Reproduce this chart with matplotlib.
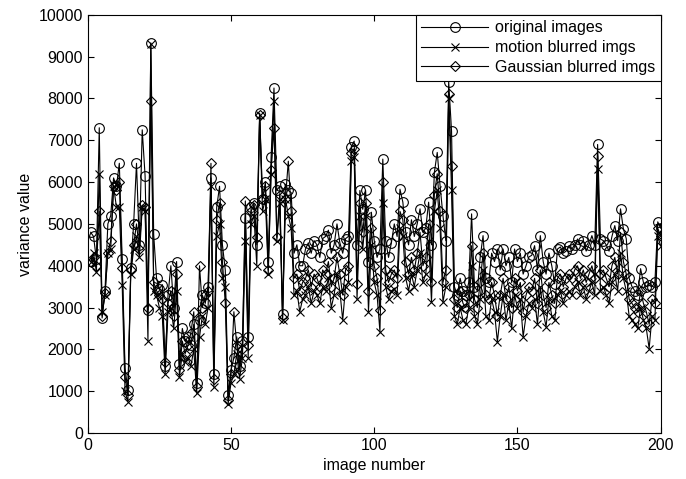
"""
Variance of original vs. blurred images, one point per image.
"""
import numpy as np
import matplotlib.pyplot as plt

plt.rcParams['font.family'] = ['Liberation Sans', 'DejaVu Sans']

image_number = np.arange(1, 201)

original = [
    4800, 4700, 4150, 7300, 2750, 3400, 5000, 5200, 6100, 5900,
    6450, 4150, 1550, 1020, 3950, 5000, 6450, 4500, 7250, 6150,
    2950, 9330, 4750, 3700, 3450, 3550, 1600, 3300, 4000, 3000,
    4100, 1650, 2500, 2200, 2300, 2100, 2600, 1200, 2700, 3300,
    3100, 3500, 6100, 1400, 5400, 5900, 4500, 3900, 900, 1500,
    1800, 2300, 1600, 2200, 5150, 2300, 5400, 5500, 4500, 7650,
    5600, 6000, 4100, 6600, 8250, 5800, 5900, 2850, 5950, 5800,
    5750, 4300, 4500, 4000, 4000, 4400, 4550, 4300, 4600, 4500,
    4200, 4650, 4700, 4850, 4300, 4500, 5000, 4550, 4300, 4650,
    4700, 6850, 6980, 4500, 5800, 5350, 5800, 4100, 5280, 4600,
    4200, 4400, 6550, 4600, 4200, 4550, 5000, 4700, 5830, 5520,
    4800, 4500, 5100, 4700, 5000, 5360, 4800, 4900, 5520, 4500,
    6230, 6710, 5910, 5200, 4600, 8400, 7220, 3500, 3300, 3700,
    3400, 3300, 3600, 5240, 3500, 3400, 4200, 4720, 3700, 3600,
    4300, 4100, 4400, 3900, 4400, 4000, 4200, 3600, 4400, 4100,
    4300, 3800, 4000, 4210, 4250, 4480, 3900, 4720, 4100, 3800,
    4300, 4000, 3570, 4400, 4450, 4300, 4350, 4480, 4400, 4500,
    4640, 4500, 4600, 4350, 4500, 4720, 4500, 6900, 4640, 4600,
    4500, 4350, 4700, 4960, 4600, 5360, 4880, 4650, 3700, 3500,
    3400, 3300, 3930, 3600, 3500, 3530, 3500, 3600, 5050, 4900,
]

motion = [
    4100, 4300, 3850, 6200, 2900, 3300, 4300, 4400, 5900, 5400,
    5400, 3550, 1000, 750, 3800, 4400, 4700, 4200, 5400, 5300,
    2200, 9300, 3400, 3300, 3000, 2800, 1400, 2900, 3000, 2500,
    3400, 1350, 1900, 1700, 1800, 1600, 2000, 950, 2300, 2800,
    2600, 3000, 5900, 1100, 4700, 5000, 3700, 3500, 700, 1200,
    1400, 1900, 1300, 1800, 4600, 1800, 5000, 5200, 4000, 7600,
    5300, 5600, 3800, 6200, 7950, 4600, 5500, 2700, 5600, 5200,
    4900, 3300, 3400, 2900, 3200, 3300, 3500, 3100, 3400, 3300,
    3100, 3500, 3400, 3700, 3000, 3300, 3800, 3400, 2700, 3500,
    3600, 6500, 6600, 3200, 5200, 4400, 5200, 2900, 4500, 3600,
    3300, 2420, 5500, 3500, 3200, 3400, 3450, 3300, 4900, 4700,
    3700, 3400, 3800, 3500, 3900, 4300, 3600, 3800, 4600, 3130,
    5300, 5800, 4900, 3130, 3500, 8000, 5800, 2800, 2600, 3000,
    2700, 2600, 3000, 4000, 2800, 2600, 3200, 3900, 2800, 2700,
    3200, 2900, 2180, 2800, 3300, 2700, 3100, 2500, 3300, 3000,
    3200, 2300, 2800, 3100, 3000, 3200, 2600, 3500, 2900, 2540,
    3200, 2800, 2700, 3300, 3400, 3100, 3300, 3400, 3300, 3500,
    3600, 3300, 3500, 3200, 3400, 3600, 3300, 6310, 3400, 3500,
    3300, 3100, 3600, 3800, 3400, 4300, 3700, 3400, 2800, 2700,
    2600, 2500, 3000, 2700, 2500, 2020, 2800, 2700, 4700, 4480,
]

gaussian = [
    4100, 4200, 4000, 5300, 2800, 3350, 4300, 4600, 5900, 5800,
    6000, 3950, 1350, 900, 3900, 4500, 5000, 4400, 5450, 5400,
    3000, 7950, 3600, 3400, 3300, 3200, 1700, 3100, 3400, 2800,
    3800, 1500, 2200, 1900, 2100, 2400, 2900, 1100, 4000, 3000,
    3300, 3400, 6450, 1300, 5100, 5500, 4100, 3100, 800, 1400,
    2900, 2100, 1500, 2000, 5550, 2100, 5300, 5450, 4680, 7600,
    5600, 5900, 3900, 6300, 7300, 4680, 5700, 2750, 5600, 6500,
    5300, 3700, 3800, 3400, 3600, 3700, 3900, 3500, 3800, 3700,
    3500, 3900, 3800, 4100, 3500, 3700, 4200, 3800, 3300, 3900,
    4000, 6700, 6800, 3570, 5500, 4800, 5500, 3400, 4900, 4000,
    3700, 2940, 6000, 3900, 3600, 3800, 3900, 3700, 5300, 5100,
    4100, 3800, 4200, 3900, 4300, 4800, 4000, 4200, 5000, 3600,
    5700, 6200, 5300, 3600, 3900, 8100, 6390, 3200, 3000, 3400,
    3100, 3000, 3300, 4480, 3200, 3000, 3600, 4300, 3300, 3200,
    3600, 3300, 2800, 3300, 3700, 3200, 3500, 3000, 3700, 3400,
    3600, 2900, 3300, 3500, 3400, 3700, 3100, 3900, 3300, 3000,
    3600, 3300, 3100, 3700, 3800, 3500, 3700, 3800, 3700, 3900,
    4000, 3700, 3900, 3600, 3800, 4000, 3700, 6630, 3800, 3900,
    3700, 3500, 4000, 4200, 3800, 4800, 4100, 3800, 3200, 3100,
    3000, 2900, 3400, 3100, 2900, 2600, 3200, 3100, 4900, 4700,
]

fig = plt.figure(figsize=(6.86, 4.79), dpi=100)
ax = fig.add_axes([0.128, 0.096, 0.835, 0.873])

style = dict(color="black", lw=0.8, mfc="none", mec="black", mew=0.8)
ax.plot(image_number, original, marker="o", ms=7, label="original images", **style)
ax.plot(image_number, motion, marker="x", ms=6, label="motion blurred imgs", **style)
ax.plot(image_number, gaussian, marker="D", ms=5, label="Gaussian blurred imgs", **style)

ax.set_xlim(0, 200)
ax.set_ylim(0, 10000)
ax.set_xticks(np.arange(0, 201, 50))
ax.set_yticks(np.arange(0, 10001, 1000))
ax.tick_params(direction="in", top=True, right=True, labelsize=11.5, length=4.3)
ax.set_xlabel("image number", fontsize=11.5, labelpad=4)
ax.set_ylabel("variance value", fontsize=11.5)

leg = ax.legend(loc="upper right", fontsize=11.5, fancybox=False, framealpha=1,
                edgecolor="black", borderaxespad=0, handlelength=4.2,
                handletextpad=0.4, borderpad=0.35, labelspacing=0.3)
leg.get_frame().set_linewidth(0.8)

fig.savefig("out.png", dpi=100)
